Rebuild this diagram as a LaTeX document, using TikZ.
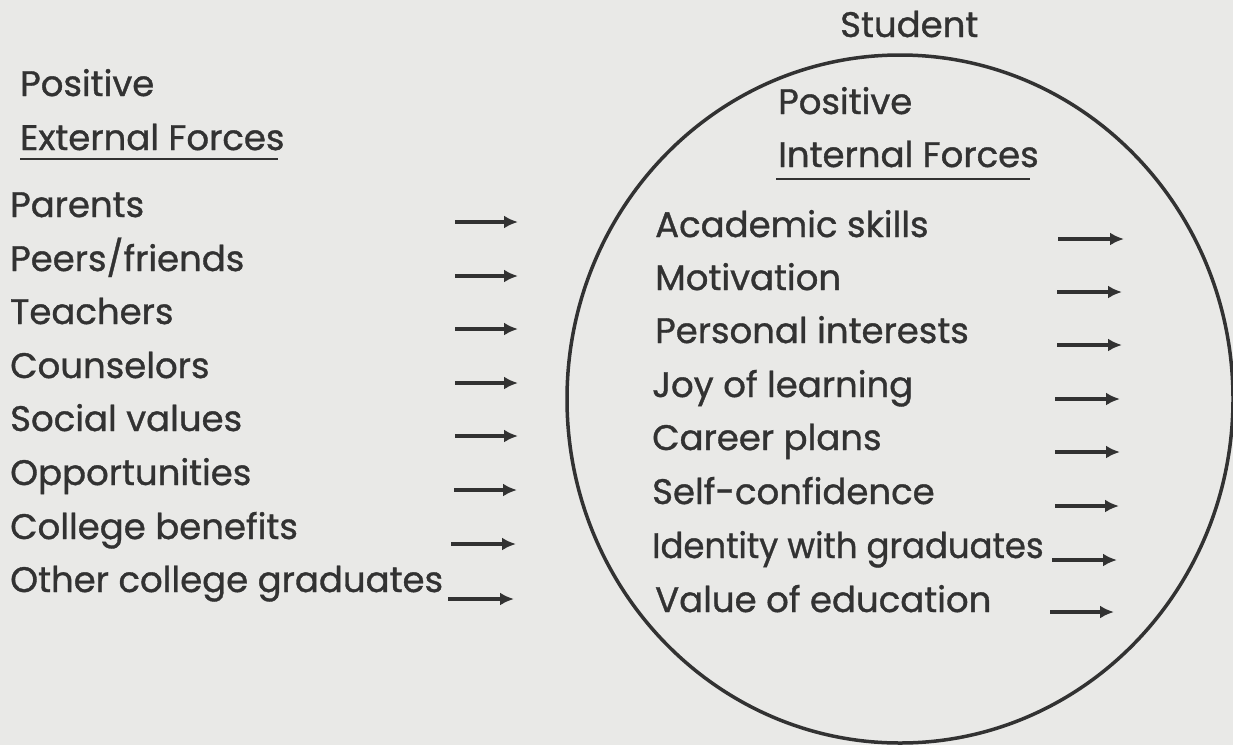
\documentclass[tikz,border=0pt]{standalone}
\usepackage{fontspec}
\setmainfont{Poppins}[FakeBold=1, AutoFakeBold=1]
\usetikzlibrary{arrows.meta}
\definecolor{paper}{RGB}{233,233,231}
\definecolor{ink}{RGB}{50,50,50}
\tikzset{
  label/.style={anchor=base west, inner sep=0pt, text=ink, font=\fontsize{35.5}{40}\selectfont\bfseries},
  force/.style={ink, line width=4.5pt, -{Latex[length=14pt,width=13pt]}}
}
\begin{document}
\begin{tikzpicture}[x=1pt, y=-1pt]
    \fill[paper] (0,0) rectangle (1233,745);
    \useasboundingbox (0,0) rectangle (1233,745);

    % the student
    \node[label] (student) at (840, 37) {Student};
    \draw[ink, line width=3.5pt] (900, 399) ellipse [x radius=333, y radius=344];

    % headings
    \node[label] (pe) at (20, 96) {Positive};
    \node[label] (ef) at (20, 150) {External Forces};
    \node[label] (pi) at (778, 114) {Positive};
    \node[label] (inf) at (778, 167) {Internal Forces};
    \draw[ink, line width=2.2pt] (ef.base west) ++(0,9) -- ++(258,0);
    \draw[ink, line width=2.2pt] (inf.base west) ++(-2,12) -- ++(254,0);

    % external forces
    \node[label] (e1) at (10, 217) {Parents};
    \node[label] (e2) at (10, 271) {Peers/friends};
    \node[label] (e3) at (10, 324) {Teachers};
    \node[label] (e4) at (10, 378) {Counselors};
    \node[label] (e5) at (10, 431) {Social values};
    \node[label] (e6) at (10, 485) {Opportunities};
    \node[label] (e7) at (10, 539) {College benefits};
    \node[label] (e8) at (10, 592) {Other college graduates};

    % internal forces
    \node[label] (i1) at (655, 237) {Academic skills};
    \node[label] (i2) at (655, 290) {Motivation};
    \node[label] (i3) at (655, 343) {Personal interests};
    \node[label] (i4) at (652, 397) {Joy of learning};
    \node[label] (i5) at (652, 450) {Career plans};
    \node[label] (i6) at (652, 504) {Self-confidence};
    \node[label] (i7) at (652, 558) {\scalebox{0.955}[1]{Identity with graduates}};
    \node[label] (i8) at (655, 612) {Value of education};

    % arrows
    \coordinate (ea1) at (455, 222); \coordinate (eb1) at (518, 222);
    \coordinate (ea2) at (455, 276); \coordinate (eb2) at (518, 276);
    \coordinate (ea3) at (455, 329); \coordinate (eb3) at (518, 329);
    \coordinate (ea4) at (455, 383); \coordinate (eb4) at (518, 383);
    \coordinate (ea5) at (455, 436); \coordinate (eb5) at (518, 436);
    \coordinate (ea6) at (454, 490); \coordinate (eb6) at (517, 490);
    \coordinate (ea7) at (451, 544); \coordinate (eb7) at (516, 544);
    \coordinate (ea8) at (448, 599); \coordinate (eb8) at (514, 599);
    \coordinate (ia1) at (1058, 239); \coordinate (ib1) at (1124, 239);
    \coordinate (ia2) at (1057, 292); \coordinate (ib2) at (1122, 292);
    \coordinate (ia3) at (1057, 345); \coordinate (ib3) at (1122, 345);
    \coordinate (ia4) at (1055, 399); \coordinate (ib4) at (1120, 399);
    \coordinate (ia5) at (1055, 452); \coordinate (ib5) at (1120, 452);
    \coordinate (ia6) at (1055, 506); \coordinate (ib6) at (1119, 506);
    \coordinate (ia7) at (1052, 560); \coordinate (ib7) at (1117, 560);
    \coordinate (ia8) at (1050, 612); \coordinate (ib8) at (1114, 612);

    \draw[force] (ea1) -- (eb1);
    \draw[force] (ea2) -- (eb2);
    \draw[force] (ea3) -- (eb3);
    \draw[force] (ea4) -- (eb4);
    \draw[force] (ea5) -- (eb5);
    \draw[force] (ea6) -- (eb6);
    \draw[force] (ea7) -- (eb7);
    \draw[force] (ea8) -- (eb8);
    \draw[force] (ia1) -- (ib1);
    \draw[force] (ia2) -- (ib2);
    \draw[force] (ia3) -- (ib3);
    \draw[force] (ia4) -- (ib4);
    \draw[force] (ia5) -- (ib5);
    \draw[force] (ia6) -- (ib6);
    \draw[force] (ia7) -- (ib7);
    \draw[force] (ia8) -- (ib8);

\end{tikzpicture}
\end{document}
